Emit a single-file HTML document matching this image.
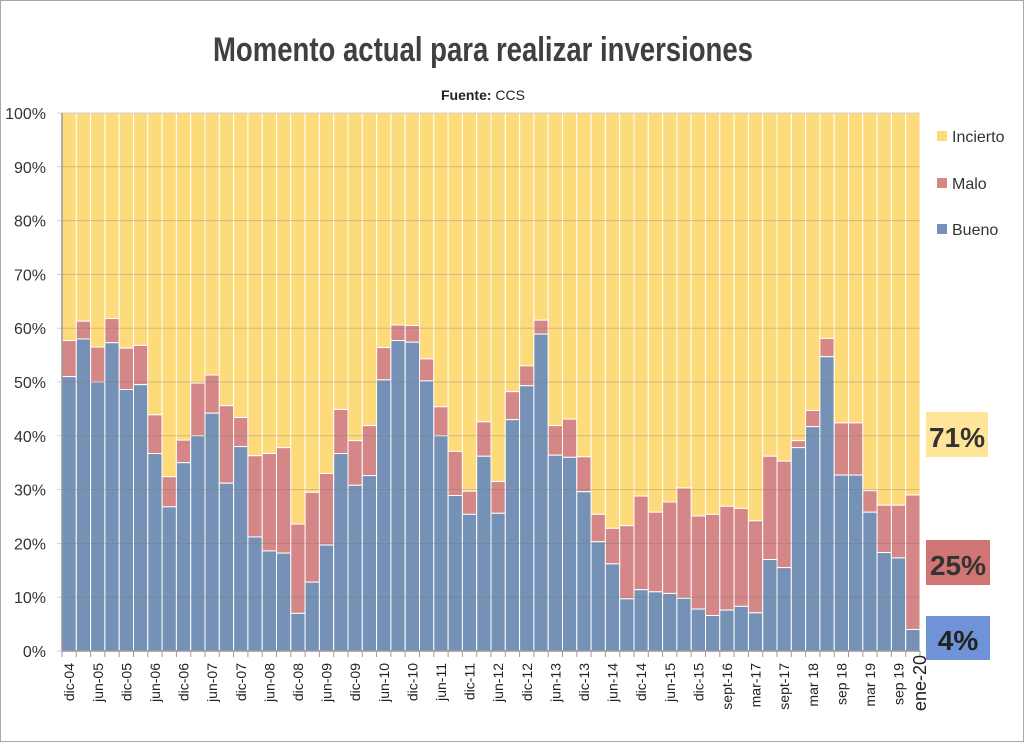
<!DOCTYPE html>
<html><head><meta charset="utf-8"><style>
html,body{margin:0;padding:0;background:#fff}
svg{display:block;font-family:"Liberation Sans Narrow","Liberation Sans",sans-serif}
</style></head><body>
<svg id="chart" width="1024" height="742" viewBox="0 0 1024 742">
<rect x="0.5" y="0.5" width="1023" height="741" fill="#fff" stroke="#a8a8a8"/>
<text x="483" y="61" text-anchor="middle" font-size="34" font-weight="bold" fill="#404040" textLength="540" lengthAdjust="spacingAndGlyphs">Momento actual para realizar inversiones</text>
<text x="483" y="100" text-anchor="middle" font-size="14" fill="#222"><tspan font-weight="bold">Fuente:</tspan> CCS</text>
<g id="plot"></g>
<g>
<rect x="937" y="131" width="10" height="10" fill="#FEDB7A"/>
<text x="952" y="142" font-size="16" fill="#333">Incierto</text>
<rect x="937" y="178" width="10" height="10" fill="#D58787"/>
<text x="952" y="189" font-size="16" fill="#333">Malo</text>
<rect x="937" y="224" width="10" height="10" fill="#7591B5"/>
<text x="952" y="235" font-size="16" fill="#333">Bueno</text>
</g>
<g>
<rect x="926" y="412" width="62" height="45" fill="#FEE59A"/>
<text x="957" y="447" text-anchor="middle" font-size="28" font-weight="bold" fill="#333">71%</text>
<rect x="926" y="540" width="64" height="45" fill="#D07474"/>
<text x="958" y="575" text-anchor="middle" font-size="28" font-weight="bold" fill="#333">25%</text>
<rect x="926" y="616" width="64" height="44" fill="#6F93D6"/>
<text x="958" y="650" text-anchor="middle" font-size="28" font-weight="bold" fill="#222">4%</text>
</g>
</svg>
<script>
const bueno=[51,58,50,57.3,48.6,49.5,36.7,26.8,35,40,44.2,31.2,38,21.2,18.6,18.2,7,12.8,19.7,36.7,30.8,32.6,50.4,57.7,57.4,50.2,40,28.9,25.4,36.2,25.6,43,49.3,58.9,36.4,36,29.6,20.3,16.2,9.7,11.4,11,10.7,9.8,7.8,6.6,7.6,8.3,7.1,17,15.5,37.8,41.7,54.7,32.7,32.7,25.8,18.3,17.3,4];
const buenoMasMalo=[57.7,61.3,56.5,61.8,56.3,56.8,43.9,32.4,39.2,49.8,51.3,45.6,43.4,36.3,36.7,37.8,23.6,29.5,33,44.9,39.1,41.9,56.4,60.6,60.5,54.3,45.4,37.1,29.7,42.6,31.5,48.2,53,61.5,41.9,43.1,36.1,25.4,22.8,23.3,28.8,25.8,27.7,30.3,25.1,25.4,26.9,26.5,24.2,36.2,35.3,39.1,44.7,58.1,42.4,42.4,29.8,27.1,27.1,29];
const xLabels=["dic-04","jun-05","dic-05","jun-06","dic-06","jun-07","dic-07","jun-08","dic-08","jun-09","dic-09","jun-10","dic-10","jun-11","dic-11","jun-12","dic-12","jun-13","dic-13","jun-14","dic-14","jun-15","dic-15","sept-16","mar-17","sept-17","mar 18","sep 18","mar 19","sep 19"];
const lastLabel="ene-20";
const yTicks=[0,10,20,30,40,50,60,70,80,90,100];

const NS="http://www.w3.org/2000/svg";
const g=document.getElementById('plot');
const X0=62,X1=920,Y0=651,Y1=113;
const n=bueno.length,bw=(X1-X0)/n;
const x=i=>X0+i*bw;
const y=v=>Y0-(v/100)*(Y0-Y1);
function mk(tag,attrs){const e=document.createElementNS(NS,tag);for(const k in attrs)e.setAttribute(k,attrs[k]);g.appendChild(e);return e;}
for(let i=0;i<n;i++){
  let r=mk('rect',{x:x(i),y:y(100),width:bw,height:y(buenoMasMalo[i])-y(100),fill:'#FEDB7A',stroke:'#fff','stroke-width':1});
  
  
  r=mk('rect',{x:x(i),y:y(buenoMasMalo[i]),width:bw,height:y(bueno[i])-y(buenoMasMalo[i]),fill:'#D58787',stroke:'#fff','stroke-width':1});
  
  
  r=mk('rect',{x:x(i),y:y(bueno[i]),width:bw,height:y(0)-y(bueno[i]),fill:'#7591B5',stroke:'#fff','stroke-width':1});
  
  
}
yTicks.forEach(t=>{
  const l=mk('line',{x1:X0-5,x2:X1,y1:y(t),y2:y(t),stroke:'rgba(120,120,120,0.35)','stroke-width':1});
  
  
  const tx=mk('text',{x:46,y:y(t)+6,'text-anchor':'end','font-size':16,fill:'#333'});
  tx.textContent=t+'%';
  
  
});
let ax=mk('line',{x1:X0,x2:X0,y1:Y1,y2:Y0,stroke:'#999','stroke-width':1.5});


ax=mk('line',{x1:X0,x2:X1,y1:Y0,y2:Y0,stroke:'#999','stroke-width':1.5});


for(let i=0;i<=n;i++){
  const tk=mk('line',{x1:x(i),x2:x(i),y1:Y0,y2:Y0+6,stroke:'#999'});
  
  
}
xLabels.forEach((lab,j)=>{
  const cx=x(j*2)+bw/2+5;
  const tx=mk('text',{x:cx,y:Y0+12,'text-anchor':'end','font-size':14,fill:'#222',transform:`rotate(-90 ${cx} ${Y0+12})`});
  tx.textContent=lab;
  
  
});
const lx=X1+6;
const lt=mk('text',{x:lx,y:Y0+4,'text-anchor':'end','font-size':18,fill:'#222',transform:`rotate(-90 ${lx} ${Y0+4})`});
lt.textContent=lastLabel;


</script>
</body></html>
